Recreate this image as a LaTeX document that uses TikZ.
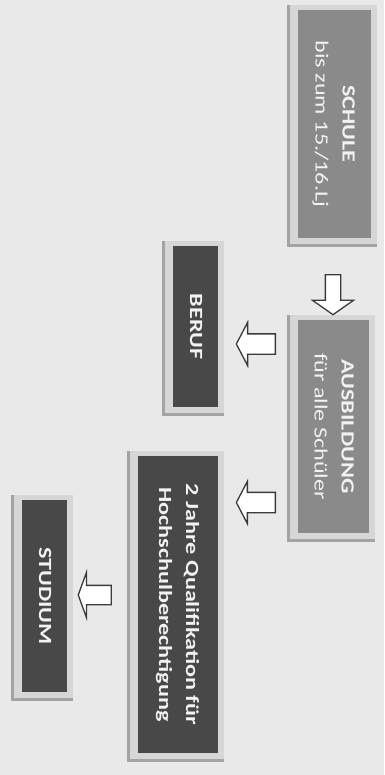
\documentclass[tikz,border=0pt]{standalone}
\usepackage{fontspec}
\setmainfont{Carlito}
\usetikzlibrary{shapes.arrows, calc, backgrounds}
\definecolor{cpaper}{HTML}{E9E9E9}
\definecolor{cmid}{HTML}{8A8A8A}
\definecolor{cdark}{HTML}{484848}
\definecolor{cframe}{HTML}{D6D6D6}
\definecolor{cedge}{HTML}{A3A3A3}
\definecolor{cline}{HTML}{3A3A3A}
\tikzset{
  box/.style={fill=#1, inner sep=0pt, text=white!95!black},
  box/.default=cdark,
  backing/.style={fill=cframe},
  edge/.style={draw=cedge, line width=3pt},
  blockarrow/.style={single arrow, draw=cline, fill=white, line width=1.3pt, inner xsep=0pt, single arrow tip angle=125},
}
\newcommand{\vtext}[1]{\rotatebox{-90}{\scalebox{1.3}[1]{\fontsize{18.6}{27}\selectfont\begin{tabular}{@{}c@{}}#1\end{tabular}}}}

\begin{document}
\begin{tikzpicture}[x=1pt, y=-1pt]
  \useasboundingbox (0,0) rectangle (384,775);
  % boxes
  \node[box=cmid, minimum width=73pt, minimum height=228pt] (schule) at (334.5,124) {\vtext{\textbf{SCHULE}\\bis zum 15./16.Lj}};
  \node[box=cmid, minimum width=71pt, minimum height=213pt] (ausbildung) at (333.5,426.5) {\vtext{\textbf{AUSBILDUNG}\\für alle Schüler}};
  \node[box, minimum width=45pt, minimum height=161pt] (beruf) at (195.5,326.5) {\vtext{\textbf{BERUF}}};
  \node[box, minimum width=80pt, minimum height=297pt] (quali) at (178,604.5) {\vtext{\textbf{2 Jahre Qualifikation für}\\\textbf{Hochschulberechtigung}}};
  \node[box, minimum width=45pt, minimum height=192pt] (studium) at (44.5,596) {\vtext{\textbf{STUDIUM}}};
  % arrows
  \node[blockarrow, shape border rotate=270, minimum height=40pt, inner xsep=7pt, inner ysep=0pt, single arrow head extend=13pt, single arrow tip angle=110] (pfeil1) at (333,292) {};
  \node[blockarrow, shape border rotate=180, minimum height=39pt, inner ysep=9.5pt, single arrow head extend=11.5pt] (pfeil2) at (258.5,344) {};
  \node[blockarrow, shape border rotate=180, minimum height=39pt, inner ysep=9.5pt, single arrow head extend=11pt] (pfeil3) at (258.5,502.5) {};
  \node[blockarrow, shape border rotate=180, minimum height=33pt, inner ysep=9pt, single arrow head extend=13pt, single arrow tip angle=140] (pfeil4) at (96.5,595) {};
  \begin{scope}[on background layer]
    \fill[cpaper] (0,0) rectangle (384,775);
    \foreach \n in {schule,ausbildung,beruf,quali,studium} {
      \fill[backing] ($(\n.north west)+(-11,-5)$) rectangle ($(\n.south east)+(6,9)$);
      \draw[edge] ($(\n.north west)+(-9.5,-5)$) |- ($(\n.south east)+(6,7.5)$);
    }
  \end{scope}
\end{tikzpicture}
\end{document}
